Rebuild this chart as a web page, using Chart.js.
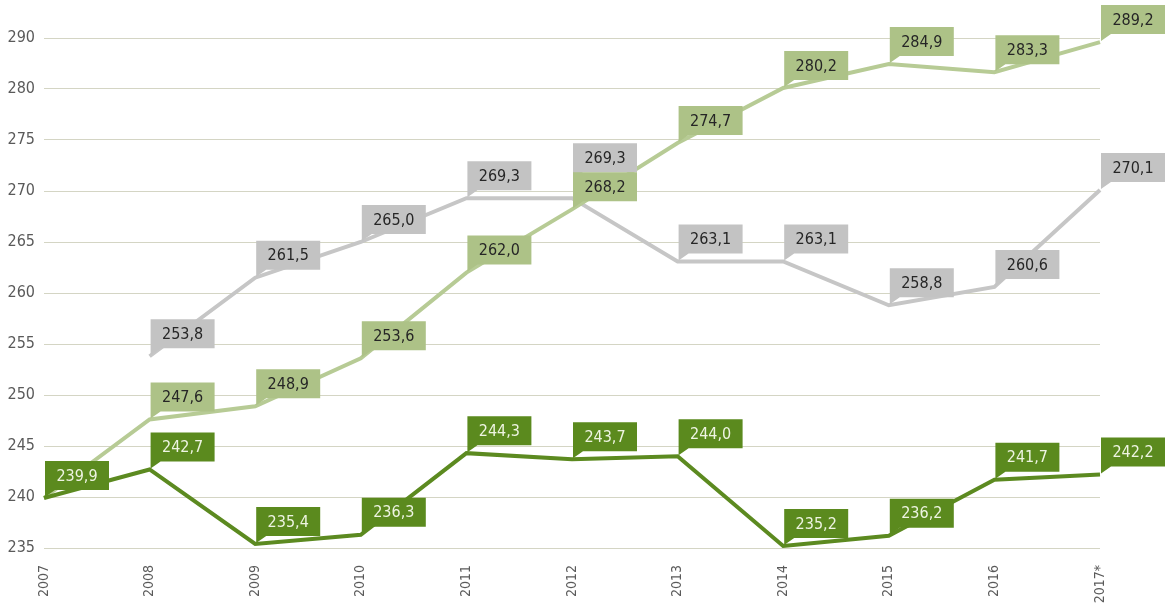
<!DOCTYPE html>
<html>
<head>
<meta charset="utf-8">
<script src="https://cdn.jsdelivr.net/npm/chart.js@4/dist/chart.umd.min.js"></script>
<style>
  html, body { margin: 0; padding: 0; background: #ffffff; }
  #wrap { width: 1168px; height: 603px; }
</style>
</head>
<body>
<div id="wrap"><canvas id="c" width="1168" height="603"></canvas></div>
<script>
// ---- data ----
const years = ['2007', '2008', '2009', '2010', '2011', '2012', '2013', '2014', '2015', '2016', '2017*'];
const lightGreenValues = [239.9, 247.6, 248.9, 253.6, 262.0, 268.2, 274.7, 280.2, 284.9, 283.3, 289.2];
const grayValues = [null, 253.8, 261.5, 265.0, 269.3, 269.3, 263.1, 263.1, 258.8, 260.6, 270.1];
const darkGreenValues = [239.9, 242.7, 235.4, 236.3, 244.3, 243.7, 244.0, 235.2, 236.2, 241.7, 242.2];
const yTickValues = [235, 240, 245, 250, 255, 260, 265, 270, 275, 280, 290];

// ---- scale with compressed top segment (280 -> 290), as in the reference ----
const BREAK = 280;
const fwd = v => v <= BREAK ? v : BREAK + (v - BREAK) / 2;
const inv = c => c <= BREAK ? c : BREAK + (c - BREAK) * 2;

class BrokenLinearScale extends Chart.LinearScale {
  static id = 'brokenLinear';
  getPixelForValue(v) {
    return (v === null || v === undefined) ? NaN : super.getPixelForValue(fwd(v));
  }
  getValueForPixel(p) {
    return inv(super.getValueForPixel(p));
  }
  buildTicks() {
    return yTickValues.map(v => ({ value: v }));
  }
}
Chart.register(BrokenLinearScale);

const COLORS = {
  dark: { line: '#5c8a20', box: '#5b8a1e', text: '#eef4e2' },
  light: { line: '#b7cb95', box: '#adc287', text: '#262626' },
  gray: { line: '#c6c6c6', box: '#c3c3c3', text: '#262626' }
};
const FONT = "'DejaVu Sans Condensed', 'Roboto', sans-serif";

const fmt = v => v.toFixed(1).replace('.', ',');

// labels drawn as callout boxes: gray first, then light green, then dark green
const calloutPlugin = {
  id: 'callouts',
  afterDatasetsDraw(chart) {
    const ctx = chart.ctx;
    const drawOrder = [2, 1, 0];
    const W = 64, H = 29, TAIL = 7;
    ctx.save();
    ctx.font = '16px ' + FONT;
    ctx.textAlign = 'center';
    ctx.textBaseline = 'middle';
    drawOrder.forEach(di => {
      const ds = chart.data.datasets[di];
      const meta = chart.getDatasetMeta(di);
      const c = COLORS[ds.key];
      ds.data.forEach((v, j) => {
        if (v === null) return;
        if (ds.key === 'light' && j === 0) return; // hidden behind dark green label in reference
        const el = meta.data[j];
        const px = el.x, py = el.y;
        let lift = 8;
        if (ds.key === 'gray' && j === 5) lift = 26; // avoid overlap with light green 2012 label
        const x0 = px + 1;
        const bottom = py - lift;
        const top = bottom - H;
        ctx.fillStyle = c.box;
        ctx.beginPath();
        ctx.moveTo(x0, top);
        ctx.lineTo(x0 + W, top);
        ctx.lineTo(x0 + W, bottom);
        ctx.lineTo(x0 + 10, bottom);
        ctx.lineTo(x0, bottom + TAIL);
        ctx.closePath();
        ctx.fill();
        ctx.fillStyle = c.text;
        ctx.fillText(fmt(v), x0 + W / 2, top + H / 2 + 1);
      });
    });
    ctx.restore();
  }
};

new Chart(document.getElementById('c'), {
  type: 'line',
  data: {
    labels: years,
    datasets: [
      { key: 'dark', data: darkGreenValues, borderColor: COLORS.dark.line, borderWidth: 4, pointRadius: 0, tension: 0, fill: false },
      { key: 'light', data: lightGreenValues, borderColor: COLORS.light.line, borderWidth: 4, pointRadius: 0, tension: 0, fill: false },
      { key: 'gray', data: grayValues, borderColor: COLORS.gray.line, borderWidth: 4, pointRadius: 0, tension: 0, fill: false, spanGaps: false }
    ]
  },
  options: {
    responsive: false,
    animation: false,
    devicePixelRatio: 1,
    layout: { padding: { top: 38, right: 68, left: 0, bottom: 0 } },
    plugins: { legend: { display: false }, tooltip: { enabled: false } },
    scales: {
      x: {
        type: 'category',
        offset: false,
        grid: { display: false, drawTicks: false },
        border: { display: false },
        ticks: {
          minRotation: 90, maxRotation: 90, autoSkip: false,
          padding: 17,
          color: '#5a5a5a',
          font: { family: FONT, size: 14 }
        },
        afterFit(scale) { scale.height = 55; }
      },
      y: {
        type: 'brokenLinear',
        min: 235,
        max: 285,
        grid: { color: '#d4d5c4', lineWidth: 1, drawTicks: false },
        border: { display: false },
        ticks: {
          padding: 9,
          color: '#5a5a5a',
          font: { family: FONT, size: 16 },
          callback: v => String(v)
        },
        afterFit(scale) { scale.width = 44; }
      }
    }
  },
  plugins: [calloutPlugin]
});
</script>
</body>
</html>
